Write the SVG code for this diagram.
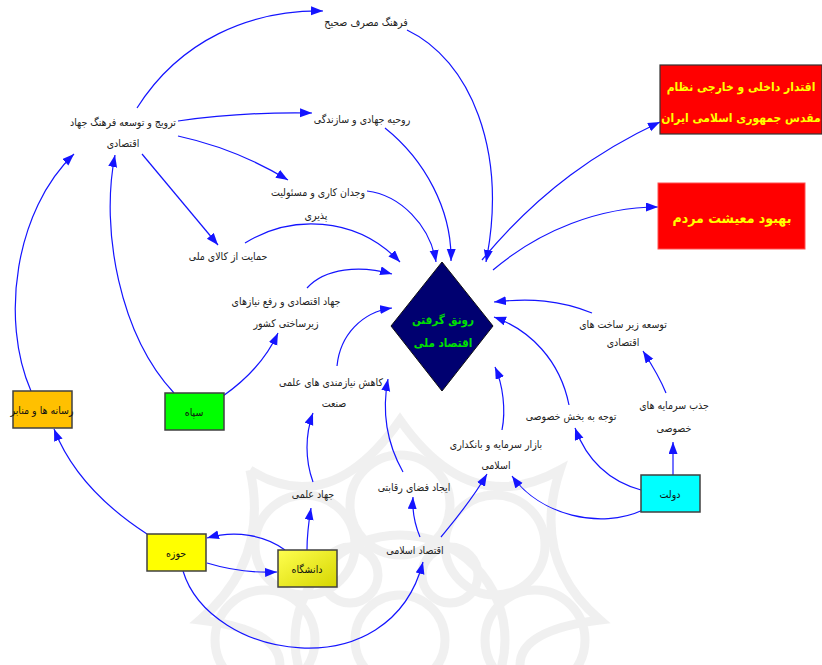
<svg xmlns="http://www.w3.org/2000/svg" width="822" height="665" viewBox="0 0 822 665">
<defs>
<marker id="ah" markerUnits="userSpaceOnUse" markerWidth="13" markerHeight="10" refX="12" refY="4.5" orient="auto">
<path d="M0,0 L12,4.5 L0,9 z" fill="#1414ff"/>
</marker>
<linearGradient id="uni" x1="0" y1="0" x2="1" y2="1">
<stop offset="0" stop-color="#ffff50"/>
<stop offset="1" stop-color="#d6d600"/>
</linearGradient>
<style>
.lbl{font-family:"DejaVu Sans Condensed","DejaVu Sans",sans-serif;font-stretch:condensed;font-size:10.5px;fill:#222;text-anchor:middle}
.box{stroke:#404040;stroke-width:1.5}
.bt{font-family:"DejaVu Sans Condensed","DejaVu Sans",sans-serif;font-stretch:condensed;font-size:10.5px;fill:#111;text-anchor:middle}
.rt{font-family:"DejaVu Sans Condensed","DejaVu Sans",sans-serif;font-stretch:condensed;font-size:14px;font-weight:bold;fill:#ffff00;text-anchor:middle}
.rs{font-size:12px}
.dt{font-family:"DejaVu Sans Condensed","DejaVu Sans",sans-serif;font-stretch:condensed;font-size:11.5px;font-weight:bold;fill:#00e000;text-anchor:middle}
.c{fill:none;stroke:#1414ff;stroke-width:1.2;marker-end:url(#ah)}
.wm{fill:none;stroke:#ececec;stroke-width:9}
</style>
</defs>
<rect width="822" height="665" fill="#ffffff"/>
<g id="watermark" opacity="0.75">
<circle class="wm" cx="400" cy="640" r="45"/>
<circle class="wm" cx="400" cy="640" r="105"/>
<circle class="wm" cx="400" cy="505" r="50"/>
<circle class="wm" cx="305" cy="545" r="50"/>
<circle class="wm" cx="495" cy="545" r="50"/>
<circle class="wm" cx="265" cy="640" r="50"/>
<circle class="wm" cx="535" cy="640" r="50"/>
<circle class="wm" cx="350" cy="575" r="28"/>
<circle class="wm" cx="450" cy="575" r="28"/>
<path class="wm" d="M250,470 Q330,520 400,420 Q470,520 560,470 Q530,560 600,620 Q520,630 520,665 M250,470 Q270,560 200,620 Q280,630 280,665"/>
</g>
<g id="connectors">
<path class="c" d="M137,108 C180,40 250,10 323,11"/>
<path class="c" d="M178,121 C220,115 260,112 312,113"/>
<path class="c" d="M178,136 C215,144 255,160 288,180"/>
<path class="c" d="M142,154 L218,245"/>
<path class="c" d="M407,30 C470,60 508,150 486,262"/>
<path class="c" d="M385,128 C425,160 452,210 451,261"/>
<path class="c" d="M367,191 C400,195 430,225 436,262"/>
<path class="c" d="M482,260 C540,190 600,150 660,122"/>
<path class="c" d="M493,270 C540,230 600,207 658,207"/>
<path class="c" d="M245,243 C290,215 355,215 400,262"/>
<path class="c" d="M307,288 C325,268 360,265 392,274"/>
<path class="c" d="M223,396 C250,377 268,355 278,333"/>
<path class="c" d="M337,366 C340,335 362,312 392,308"/>
<path class="c" d="M174,393 C120,335 100,230 115,155"/>
<path class="c" d="M31,391 C0,320 15,210 74,154"/>
<path class="c" d="M147,534 C110,510 72,475 54,429"/>
<path class="c" d="M285,550 C265,535 235,530 207,538"/>
<path class="c" d="M207,563 C230,570 255,573 277,572"/>
<path class="c" d="M183,571 C210,660 390,690 423,562"/>
<path class="c" d="M307,550 C307,535 309,520 311,508"/>
<path class="c" d="M313,482 C305,460 305,435 313,413"/>
<path class="c" d="M420,537 C415,525 412,512 413,497"/>
<path class="c" d="M403,472 C385,440 382,410 388,379"/>
<path class="c" d="M441,537 C455,520 472,500 487,474"/>
<path class="c" d="M502,430 C506,410 503,385 495,367"/>
<path class="c" d="M643,510 C600,530 540,515 512,476"/>
<path class="c" d="M641,490 C605,480 585,455 575,428"/>
<path class="c" d="M569,405 C560,360 530,330 494,317"/>
<path class="c" d="M592,313 C560,300 530,298 494,302"/>
<path class="c" d="M666,393 C660,378 652,365 643,351"/>
<path class="c" d="M673,475 L673,442"/>
</g>
<g id="n-farhang-masraf"><text class="lbl" x="366" y="26">فرهنگ مصرف صحیح</text></g>
<g id="n-tarvij"><text class="lbl" x="123" y="126">ترویج و توسعه فرهنگ جهاد</text><text class="lbl" x="123" y="147">اقتصادی</text></g>
<g id="n-rouhie"><text class="lbl" x="362" y="123">روحیه جهادی و سازندگی</text></g>
<g id="n-vojdan"><text class="lbl" x="318" y="196">وجدان کاری و مسئولیت</text><text class="lbl" x="316" y="219">پذیری</text></g>
<g id="n-hemayat"><text class="lbl" x="228" y="260">حمایت از کالای ملی</text></g>
<g id="n-jahad-eghtesadi"><text class="lbl" x="286" y="305">جهاد اقتصادی و رفع نیازهای</text><text class="lbl" x="286" y="327">زیرساختی کشور</text></g>
<g id="n-kahesh"><text class="lbl" x="331" y="386">کاهش نیازمندی های علمی</text><text class="lbl" x="334" y="407">صنعت</text></g>
<g id="n-jahad-elmi"><text class="lbl" x="313" y="498">جهاد علمی</text></g>
<g id="n-ijad"><text class="lbl" x="414" y="491">ایجاد فضای رقابتی</text></g>
<g id="n-bazar"><text class="lbl" x="496" y="448">بازار سرمایه و بانکداری</text><text class="lbl" x="496" y="469">اسلامی</text></g>
<g id="n-eghtesad-eslami"><text class="lbl" x="415" y="554">اقتصاد اسلامی</text></g>
<g id="n-tavajoh"><text class="lbl" x="571" y="420">توجه به بخش خصوصی</text></g>
<g id="n-tose"><text class="lbl" x="623" y="328">توسعه زیر ساخت های</text><text class="lbl" x="623" y="346">اقتصادی</text></g>
<g id="n-jazb"><text class="lbl" x="674" y="409">جذب سرمایه های</text><text class="lbl" x="674" y="432">خصوصی</text></g>
<g id="n-ronagh">
<polygon points="442,262 493,326 442,391 391,326" fill="#000070" stroke="#111" stroke-width="1"/>
<text class="dt" x="443" y="324">رونق گرفتن</text>
<text class="dt" x="443" y="347">اقتصاد ملی</text>
</g>
<g id="n-eghtedar">
<rect x="660" y="65" width="162" height="69" fill="#ff0000" stroke="#333" stroke-width="1.2"/>
<text class="rt rs" x="741" y="91">اقتدار داخلی و خارجی نظام</text>
<text class="rt rs" x="741" y="122">مقدس جمهوری اسلامی ایران</text>
</g>
<g id="n-behbood">
<rect x="658" y="183" width="147" height="66" fill="#ff0000" stroke="#ff5050" stroke-width="1"/>
<text class="rt" x="732" y="223">بهبود معیشت مردم</text>
</g>
<g id="n-resane"><rect class="box" x="13" y="391" width="59" height="37" fill="#ffc000"/><text class="bt" x="42" y="414">رسانه ها و منابر</text></g>
<g id="n-sepah"><rect class="box" x="165" y="393" width="59" height="37" fill="#00ff00"/><text class="bt" x="194" y="416">سپاه</text></g>
<g id="n-hoze"><rect class="box" x="147" y="534" width="59" height="37" fill="#ffff00"/><text class="bt" x="176" y="557">حوزه</text></g>
<g id="n-daneshgah"><rect class="box" x="278" y="550" width="59" height="37" fill="url(#uni)"/><text class="bt" x="307" y="573">دانشگاه</text></g>
<g id="n-dolat"><rect class="box" x="641" y="475" width="59" height="37" fill="#00ffff"/><text class="bt" x="670" y="498">دولت</text></g>
</svg>
